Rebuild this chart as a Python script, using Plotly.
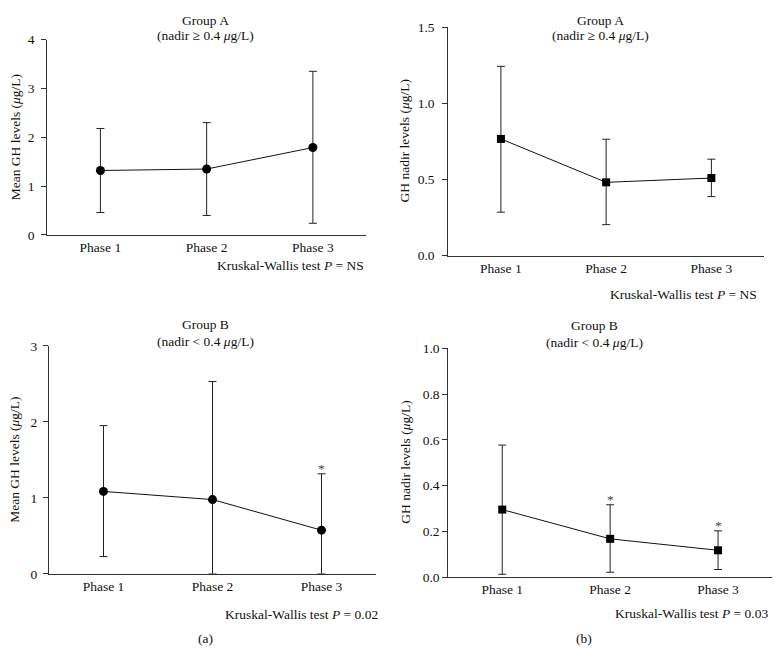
import plotly.graph_objects as go

phases = ["Phase 1", "Phase 2", "Phase 3"]

# (a) top: Mean GH, Group A
a_top_mean = [1.32, 1.35, 1.79]
a_top_upper = [2.18, 2.30, 3.35]
a_top_lower = [0.46, 0.40, 0.24]
a_top_sig = [False, False, False]

# (b) top: GH nadir, Group A
b_top_mean = [0.766, 0.481, 0.509]
b_top_upper = [1.243, 0.764, 0.633]
b_top_lower = [0.285, 0.203, 0.387]
b_top_sig = [False, False, False]

# (a) bottom: Mean GH, Group B
a_bot_mean = [1.084, 0.977, 0.574]
a_bot_upper = [1.95, 2.53, 1.316]
a_bot_lower = [0.227, 0.0, 0.0]
a_bot_sig = [False, False, True]

# (b) bottom: GH nadir, Group B
b_bot_mean = [0.295, 0.167, 0.117]
b_bot_upper = [0.577, 0.316, 0.202]
b_bot_lower = [0.012, 0.021, 0.033]
b_bot_sig = [False, True, True]

W, H = 782, 660
FONT = "Liberation Serif"
FS = 13.5
TXT = "#111111"
AX = "#333333"

panels = [
    dict(mean=a_top_mean, up=a_top_upper, lo=a_top_lower, sig=a_top_sig, sym="circle", msize=9,
         xdom=(47.3, 366), ydom=(33.3, 233.3), yrange=[0, 4], dtick=1, tickformat="d", standoff=4,
         ytitle="Mean GH levels (<i>μ</i>g/L)", ytitle_x=15,
         group="Group A", sub="(nadir ≥ 0.4 <i>μ</i>g/L)", gy=(14, 29.5), gx=205,
         kw="Kruskal-Wallis test <i>P</i> = NS", kwx=366, kwy=264),
    dict(mean=b_top_mean, up=b_top_upper, lo=b_top_lower, sig=b_top_sig, sym="square", msize=8,
         xdom=(448.3, 764), ydom=(20.7, 254.3), yrange=[0, 1.5], dtick=0.5, tickformat=".1f", standoff=5,
         ytitle="GH nadir levels (<i>μ</i>g/L)", ytitle_x=404,
         group="Group A", sub="(nadir ≥ 0.4 <i>μ</i>g/L)", gy=(13.5, 29.5), gx=600,
         kw="Kruskal-Wallis test <i>P</i> = NS", kwx=759, kwy=294),
    dict(mean=a_bot_mean, up=a_bot_upper, lo=a_bot_lower, sig=a_bot_sig, sym="circle", msize=9,
         xdom=(49, 376), ydom=(346.7, 580), yrange=[0, 3], dtick=1, tickformat="d", standoff=3,
         ytitle="Mean GH levels (<i>μ</i>g/L)", ytitle_x=15,
         group="Group B", sub="(nadir < 0.4 <i>μ</i>g/L)", gy=(325, 342.5), gx=205,
         kw="Kruskal-Wallis test <i>P</i> = 0.02", kwx=380, kwy=621.5),
    dict(mean=b_bot_mean, up=b_bot_upper, lo=b_bot_lower, sig=b_bot_sig, sym="square", msize=8,
         xdom=(448.3, 772), ydom=(349.3, 583.3), yrange=[0, 1.0], dtick=0.2, tickformat=".1f", standoff=0,
         ytitle="GH nadir levels (<i>μ</i>g/L)", ytitle_x=406,
         group="Group B", sub="(nadir < 0.4 <i>μ</i>g/L)", gy=(326, 343.5), gx=594,
         kw="Kruskal-Wallis test <i>P</i> = 0.03", kwx=770, kwy=620.5),
]

fig = go.Figure()
annotations = []
layout = dict(
    width=W, height=H, margin=dict(l=0, r=0, t=0, b=0),
    paper_bgcolor="white", plot_bgcolor="white", showlegend=False,
    font=dict(family=FONT, size=FS, color=TXT),
)


def txt(**kw):
    d = dict(showarrow=False, font=dict(family=FONT, size=FS, color=TXT))
    d.update(kw)
    return d


for i, p in enumerate(panels, start=1):
    xa = "x" if i == 1 else f"x{i}"
    ya = "y" if i == 1 else f"y{i}"
    plus = [u - m for u, m in zip(p["up"], p["mean"])]
    minus = [m - l for m, l in zip(p["mean"], p["lo"])]
    fig.add_trace(go.Scatter(
        x=phases, y=p["mean"], mode="lines+markers", xaxis=xa, yaxis=ya,
        line=dict(color="#111111", width=1),
        marker=dict(symbol=p["sym"], size=p["msize"], color="black"),
        error_y=dict(type="data", symmetric=False, array=plus, arrayminus=minus,
                     color="#222222", thickness=1, width=4),
        cliponaxis=False, hoverinfo="skip",
    ))
    x0, x1 = p["xdom"]
    y0, y1 = p["ydom"]
    layout["xaxis" if i == 1 else f"xaxis{i}"] = dict(
        domain=[x0 / W, x1 / W], anchor=ya, type="category", range=[-0.5, 2.5],
        showline=True, linecolor=AX, linewidth=1, ticks="", showgrid=False, zeroline=False,
        tickfont=dict(family=FONT, size=FS, color=TXT), fixedrange=True,
    )
    layout["yaxis" if i == 1 else f"yaxis{i}"] = dict(
        domain=[1 - y1 / H, 1 - y0 / H], anchor=xa, range=p["yrange"], dtick=p["dtick"],
        tick0=0, tickformat=p["tickformat"], ticklabelstandoff=p["standoff"],
        showline=True, linecolor=AX, linewidth=1, ticks="outside", ticklen=5, tickcolor=AX,
        showgrid=False, zeroline=False,
        tickfont=dict(family=FONT, size=FS, color=TXT), fixedrange=True,
    )
    annotations.append(txt(xref="paper", yref="paper", x=p["ytitle_x"] / W, y=1 - (y0 + y1) / 2 / H,
                           text=p["ytitle"], textangle=-90, xanchor="center", yanchor="middle"))
    annotations.append(txt(xref="paper", yref="paper", x=p["gx"] / W, y=1 - p["gy"][0] / H,
                           text=p["group"], xanchor="center", yanchor="middle"))
    annotations.append(txt(xref="paper", yref="paper", x=p["gx"] / W, y=1 - p["gy"][1] / H,
                           text=p["sub"], xanchor="center", yanchor="middle"))
    annotations.append(txt(xref="paper", yref="paper", x=p["kwx"] / W, y=1 - p["kwy"] / H,
                           text=p["kw"], xanchor="right", yanchor="middle"))
    for ph, u, s in zip(phases, p["up"], p["sig"]):
        if s:
            annotations.append(dict(
                xref=xa, yref=ya, x=ph, y=u, text="*", showarrow=False,
                yanchor="bottom", yshift=-4, font=dict(family=FONT, size=FS, color="#444444"),
            ))

annotations.append(txt(xref="paper", yref="paper", x=205 / W, y=1 - 646.5 / H, text="(a)",
                       xanchor="center", yanchor="middle"))
annotations.append(txt(xref="paper", yref="paper", x=584 / W, y=1 - 646.5 / H, text="(b)",
                       xanchor="center", yanchor="middle"))

layout["annotations"] = annotations
fig.update_layout(**layout)
fig.write_html(
    "out.html",
    config={"displayModeBar": False},
    post_script="document.body.style.margin='0';document.body.style.padding='0';"
                "document.documentElement.style.overflow='hidden';",
)
